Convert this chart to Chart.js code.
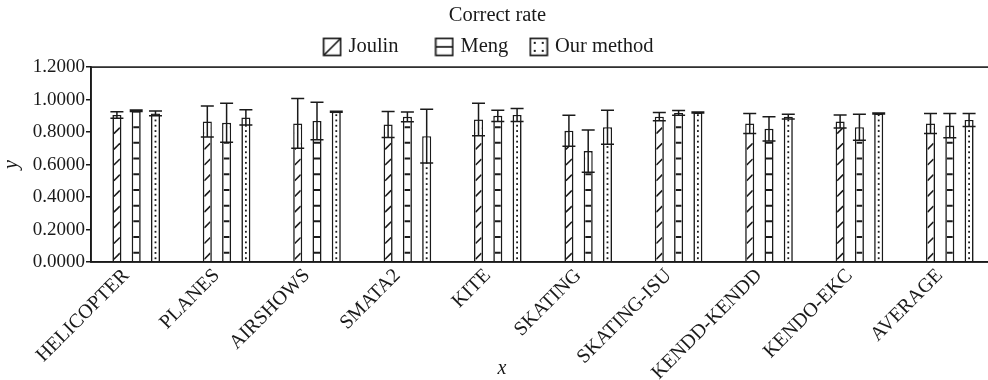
<!DOCTYPE html>
<html>
<head>
<meta charset="utf-8">
<script src="https://cdn.jsdelivr.net/npm/chart.js@4/dist/chart.umd.min.js"></script>
<style>
  html, body { margin: 0; padding: 0; background: #fff; overflow: hidden; }
  #wrap { width: 988px; height: 380px; overflow: hidden; }
</style>
</head>
<body>
<div id="wrap"><canvas id="rateChart" width="1000" height="380"></canvas></div>
<script>
const categories = ['HELICOPTER', 'PLANES', 'AIRSHOWS', 'SMATA2', 'KITE', 'SKATING',
  'SKATING-ISU', 'KENDD-KENDD', 'KENDO-EKC', 'AVERAGE'];
const seriesNames = ['Joulin', 'Meng', 'Our method'];

const joulin = [0.905, 0.865, 0.853, 0.847, 0.878, 0.808, 0.895, 0.853, 0.865, 0.853];
const joulinErr = [0.020, 0.095, 0.153, 0.080, 0.100, 0.095, 0.025, 0.062, 0.040, 0.062];
const meng = [0.931, 0.857, 0.868, 0.894, 0.900, 0.683, 0.918, 0.820, 0.830, 0.840];
const mengErr = [0.005, 0.120, 0.115, 0.030, 0.035, 0.130, 0.015, 0.075, 0.080, 0.075];
const ours = [0.915, 0.890, 0.925, 0.775, 0.905, 0.830, 0.921, 0.895, 0.915, 0.875];
const oursErr = [0.015, 0.047, 0.003, 0.165, 0.040, 0.105, 0.003, 0.015, 0.003, 0.040];

const yTicks = [0, 0.2, 0.4, 0.6, 0.8, 1.0, 1.2];

const FONT = "'Liberation Serif', 'DejaVu Serif', serif";
const INK = '#1a1a1a';

// legend icons: small boxes showing each fill pattern
function makeIcon(kind) {
  const c = document.createElement('canvas');
  c.width = 20; c.height = 20;
  const g = c.getContext('2d');
  g.strokeStyle = INK;
  g.fillStyle = INK;
  g.lineWidth = 1.7;
  g.strokeRect(1.5, 1.5, 17, 17);
  if (kind === 'diag') {
    g.beginPath(); g.moveTo(1.5, 18.5); g.lineTo(18.5, 1.5); g.stroke();
  } else if (kind === 'hline') {
    g.beginPath(); g.moveTo(1.5, 10); g.lineTo(18.5, 10); g.stroke();
  } else {
    [[5, 5], [13, 5], [5, 13], [13, 13]].forEach(p => g.fillRect(p[0], p[1], 2, 2));
  }
  return c;
}
const icons = [makeIcon('diag'), makeIcon('hline'), makeIcon('dots')];
// trailing spaces only widen the legend items to match the original spacing
const legendText = ['Joulin      ', 'Meng   ', 'Our method   '];
const patterns = ['diag', 'hline', 'dots'];
const errors = [joulinErr, mengErr, oursErr];

// Fill patterns inside each bar, then error bars on top
const barDecor = {
  id: 'barDecor',
  afterDatasetsDraw(chart) {
    const ctx = chart.ctx;
    chart.data.datasets.forEach((ds, di) => {
      const meta = chart.getDatasetMeta(di);
      meta.data.forEach((bar, i) => {
        const p = bar.getProps(['x', 'y', 'base', 'width'], true);
        const left = p.x - p.width / 2, right = p.x + p.width / 2;
        const inL = left + 1.5, inR = right - 1.5;
        ctx.save();
        ctx.beginPath();
        ctx.rect(inL, p.y + 1.5, inR - inL, p.base - p.y - 1.5);
        ctx.clip();
        ctx.strokeStyle = INK;
        ctx.fillStyle = INK;
        ctx.lineWidth = 1.6;
        const step = 15.7;
        if (patterns[di] === 'diag') {
          for (let t = 2; t < p.base - p.y + step; t += step) {
            ctx.beginPath();
            ctx.moveTo(inL, p.base - t);
            ctx.lineTo(inR, p.base - t - (inR - inL));
            ctx.stroke();
          }
        } else if (patterns[di] === 'hline') {
          ctx.lineWidth = 2;
          for (let t = 8.5; t < p.base - p.y; t += step) {
            ctx.beginPath();
            ctx.moveTo(inL, p.base - t);
            ctx.lineTo(inR, p.base - t);
            ctx.stroke();
          }
        } else {
          for (let t = 3; t < p.base - p.y; t += 5.3) {
            ctx.fillRect(p.x - 0.9, p.base - t - 0.9, 1.8, 1.8);
          }
        }
        ctx.restore();

        // error bar
        const yScale = chart.scales.y;
        const v = ds.data[i], e = errors[di][i];
        const yHi = yScale.getPixelForValue(v + e);
        const yLo = yScale.getPixelForValue(v - e);
        ctx.save();
        ctx.fillStyle = '#fff';
        if (yLo > p.y + 1.5) ctx.fillRect(inL, p.y + 1.5, inR - inL, yLo - p.y - 1.5);
        ctx.strokeStyle = INK;
        ctx.lineWidth = 1.5;
        ctx.beginPath();
        ctx.moveTo(p.x, yHi); ctx.lineTo(p.x, yLo);
        ctx.moveTo(p.x - 6.5, yHi); ctx.lineTo(p.x + 6.5, yHi);
        ctx.moveTo(p.x - 6.5, yLo); ctx.lineTo(p.x + 6.5, yLo);
        ctx.stroke();
        ctx.restore();
      });
    });
  },
  afterDraw(chart) {
    const ctx = chart.ctx;
    const a = chart.chartArea;
    ctx.save();
    ctx.strokeStyle = INK;
    ctx.lineWidth = 1.6;
    ctx.strokeRect(a.left, a.top, a.right - a.left, a.bottom - a.top);
    // x axis title sits among the rotated labels
    ctx.fillStyle = INK;
    ctx.font = "italic 20px " + FONT;
    ctx.textAlign = 'center';
    ctx.textBaseline = 'middle';
    ctx.fillText('x', 502, 369);
    ctx.restore();
  }
};

const seriesData = [joulin, meng, ours];

new Chart(document.getElementById('rateChart'), {
  type: 'bar',
  data: {
    labels: categories,
    datasets: seriesNames.map((name, i) => ({
      label: name,
      data: seriesData[i],
      backgroundColor: '#fff',
      borderColor: INK,
      borderWidth: 1.6,
      categoryPercentage: 0.64,
      barPercentage: 0.47
    }))
  },
  options: {
    responsive: false,
    animation: false,
    layout: { padding: { left: 0, right: 5, top: 0, bottom: 0 } },
    scales: {
      x: {
        grid: { display: false, drawTicks: false },
        border: { display: true, color: INK, width: 1.6 },
        ticks: {
          color: INK,
          font: { family: FONT, size: 20 },
          minRotation: 45,
          maxRotation: 45,
          autoSkip: false,
          padding: 2,
          labelOffset: -10
        },
        afterFit(s) { s.height = 118; }
      },
      y: {
        min: 0,
        max: 1.2,
        afterBuildTicks(s) { s.ticks = yTicks.map(v => ({ value: v })); },
        grid: { drawOnChartArea: false, drawTicks: true, tickLength: 5, color: INK, lineWidth: 1.5 },
        border: { display: true, color: INK, width: 1.6 },
        ticks: {
          color: INK,
          font: { family: FONT, size: 19 },
          padding: 1,
          callback: v => Number(v).toFixed(4)
        },
        title: {
          display: true,
          text: 'y',
          color: INK,
          font: { family: FONT, size: 20, style: 'italic' },
          padding: { top: 0, bottom: 0 }
        },
        afterFit(s) { s.width = 91; }
      }
    },
    plugins: {
      title: {
        display: true,
        text: 'Correct rate',
        color: INK,
        font: { family: FONT, size: 20.5, weight: 'normal' },
        padding: { top: 3, bottom: 0 }
      },
      legend: {
        display: true,
        position: 'top',
        labels: {
          color: INK,
          font: { family: FONT, size: 20.5 },
          usePointStyle: true,
          pointStyleWidth: 12,
          padding: 9,
          generateLabels(chart) {
            const base = Chart.defaults.plugins.legend.labels.generateLabels(chart);
            return base.map((l, i) => Object.assign(l, {
              pointStyle: icons[i],
              text: legendText[i]
            }));
          }
        }
      },
      tooltip: { enabled: false }
    }
  },
  plugins: [barDecor]
});
</script>
</body>
</html>
